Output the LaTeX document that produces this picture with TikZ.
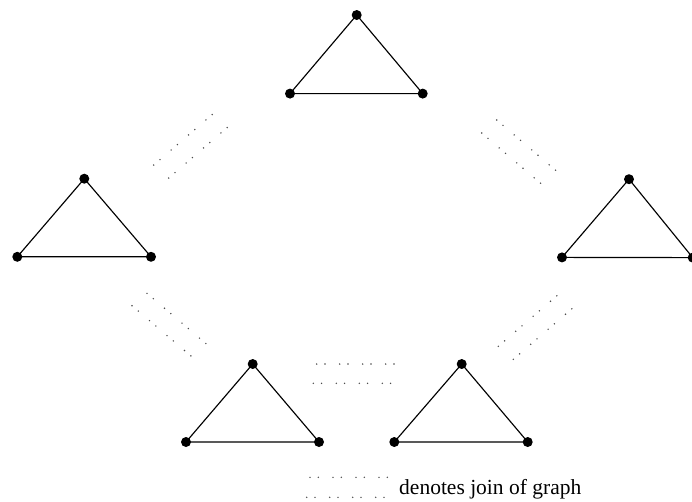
\documentclass[tikz,border=0pt]{standalone}
\usepackage{fontspec}
\setmainfont{Liberation Serif}
\usetikzlibrary{calc}

% one row of the join symbol: four pairs of dots starting at (#1,#2)
% and running along the unit direction (#3,#4)
\newcommand\joinrow[4]{%
  \foreach \d in {0,8.3,23,31.3,46,54.3,69,77.3}{%
    \fill[joindot] ({#1+\d*(#3)},{#2+\d*(#4)}) circle (0.8);}}

\begin{document}
\begin{tikzpicture}[x=1pt,y=-1pt,
  vertex/.style={circle,fill=black,inner sep=0pt,minimum size=10pt},
  edge/.style={line width=1.15pt},
  joindot/.style={fill=black!70}]
\useasboundingbox (0,0) rectangle (692,501);

% the five triangles (apex, left, right)
\foreach \n/\ax/\ay/\lx/\ly/\rx/\ry in {
    top/356.7/15/290/93.6/422.7/93.6,
    lft/84.3/178.7/17.3/256.8/151/256.8,
    rgt/629/179.2/562/257.4/692.7/257.6,
    bl/252.7/364/186/442/319/442,
    br/461.7/364/394.3/442/527.7/442}{
  \node[vertex] (\n-a) at (\ax,\ay) {};
  \node[vertex] (\n-l) at (\lx,\ly) {};
  \node[vertex] (\n-r) at (\rx,\ry) {};
  \draw[edge] (\n-a.center) -- (\n-l.center) -- (\n-r.center) -- cycle;
}

% join symbols between neighbouring triangles
\joinrow{153.7}{165}{0.757}{-0.653}
\joinrow{168.7}{178}{0.757}{-0.653}
\joinrow{496.7}{120}{0.761}{0.649}
\joinrow{481.7}{133}{0.761}{0.649}
\joinrow{147}{293.3}{0.761}{0.649}
\joinrow{132}{305.7}{0.761}{0.649}
\joinrow{498.3}{346.3}{0.757}{-0.653}
\joinrow{513.3}{359.3}{0.757}{-0.653}
\joinrow{316.7}{364}{1}{0}
\joinrow{313.3}{383.3}{1}{0}

% legend
\joinrow{310}{477.3}{1}{0}
\joinrow{306.7}{497.3}{1}{0}
\node[anchor=base west,inner sep=0pt,font=\fontsize{21.5}{24}\selectfont] (legend) at (399,494) {denotes join of graph};
\end{tikzpicture}
\end{document}
